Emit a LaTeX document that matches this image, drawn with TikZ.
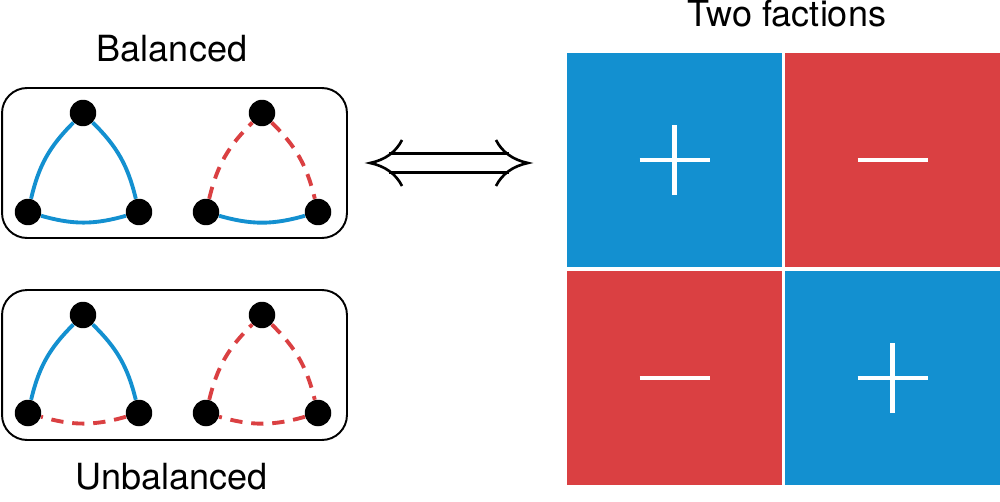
\documentclass[tikz,border=0pt]{standalone}
\usepackage{fontspec}
\setmainfont{TeX Gyre Heros}
\usetikzlibrary{positioning}
\definecolor{factblue}{RGB}{19,144,208}
\definecolor{factred}{RGB}{218,64,66}

\begin{document}
\begin{tikzpicture}[
      x=0.02cm, y=0.02cm,
      vertex/.style={circle,fill=black,inner sep=0pt,minimum size=0.53cm},
      panel/.style={draw=black,line width=1.1pt,rounded corners=0.5cm,minimum width=6.9cm,minimum height=3cm},
      posedge/.style={factblue,line width=2.2pt,bend left=16},
      negedge/.style={factred,line width=2.2pt,dash pattern=on 7pt off 5pt,bend left=16},
      block/.style={inner sep=0pt,minimum width=4.3cm,minimum height=4.28cm},
      sign/.style={white,line width=2.3pt},
      twoway/.style={black,line width=1.5pt},
      every node/.style={font=\fontsize{20.5}{24}\selectfont}
    ]
      \useasboundingbox (0,0) rectangle (1000,501);

      % balanced / unbalanced panels
      \node[panel] (bal) at (174.5,338) {};
      \node[panel] (unbal) at (174.5,136) {};
      \node[anchor=base] (baltxt) at (172,439) {Balanced};
      \node[anchor=base] (unbaltxt) at (172,12) {Unbalanced};

      \node[vertex] (a1) at (83,388) {};
      \node[vertex] (a2) at (28,289) {};
      \node[vertex] (a3) at (139,289) {};
      \node[vertex] (b1) at (262,388) {};
      \node[vertex] (b2) at (206,289) {};
      \node[vertex] (b3) at (318,289) {};
      \node[vertex] (c1) at (83,186) {};
      \node[vertex] (c2) at (28,88) {};
      \node[vertex] (c3) at (139,88) {};
      \node[vertex] (d1) at (262,186) {};
      \node[vertex] (d2) at (206,88) {};
      \node[vertex] (d3) at (318,88) {};

      \draw[posedge] (a2) to (a1);
      \draw[posedge] (a1) to (a3);
      \draw[posedge] (a3) to (a2);
      \draw[negedge] (b2) to (b1);
      \draw[negedge] (b1) to (b3);
      \draw[posedge] (b3) to (b2);
      \draw[posedge] (c2) to (c1);
      \draw[posedge] (c1) to (c3);
      \draw[negedge] (c3) to (c2);
      \draw[negedge] (d2) to (d1);
      \draw[negedge] (d1) to (d3);
      \draw[negedge] (d3) to (d2);

      % double arrow
      \coordinate (la) at (370,338);
      \coordinate (ra) at (528,338);
      \draw[twoway] ([shift={(19,9.5)}]la) -- ([shift={(-19,9.5)}]ra);
      \draw[twoway] ([shift={(19,-9.5)}]la) -- ([shift={(-19,-9.5)}]ra);
      \draw[twoway] ([shift={(32,23)}]la) .. controls ([shift={(26,11)}]la) and ([shift={(15,3)}]la) .. (la)
        .. controls ([shift={(15,-3)}]la) and ([shift={(26,-11)}]la) .. ([shift={(32,-23)}]la);
      \draw[twoway] ([shift={(-32,23)}]ra) .. controls ([shift={(-26,11)}]ra) and ([shift={(-15,3)}]ra) .. (ra)
        .. controls ([shift={(-15,-3)}]ra) and ([shift={(-26,-11)}]ra) .. ([shift={(-32,-23)}]ra);

      % two factions
      \node[block,fill=factblue] (tl) at (674.5,341) {};
      \node[block,fill=factred] (tr) at (892.5,341) {};
      \node[block,fill=factred] (bl) at (674.5,123) {};
      \node[block,fill=factblue] (br) at (892.5,123) {};
      \node[anchor=base] (facttxt) at (787,474) {Two factions};

      \draw[sign] ([shift={(-35,0)}]tl.center) -- ([shift={(35,0)}]tl.center);
      \draw[sign] ([shift={(0,-35)}]tl.center) -- ([shift={(0,35)}]tl.center);
      \draw[sign] ([shift={(-35,0)}]tr.center) -- ([shift={(35,0)}]tr.center);
      \draw[sign] ([shift={(-35,0)}]bl.center) -- ([shift={(35,0)}]bl.center);
      \draw[sign] ([shift={(-35,0)}]br.center) -- ([shift={(35,0)}]br.center);
      \draw[sign] ([shift={(0,-35)}]br.center) -- ([shift={(0,35)}]br.center);
    \end{tikzpicture}
\end{document}
